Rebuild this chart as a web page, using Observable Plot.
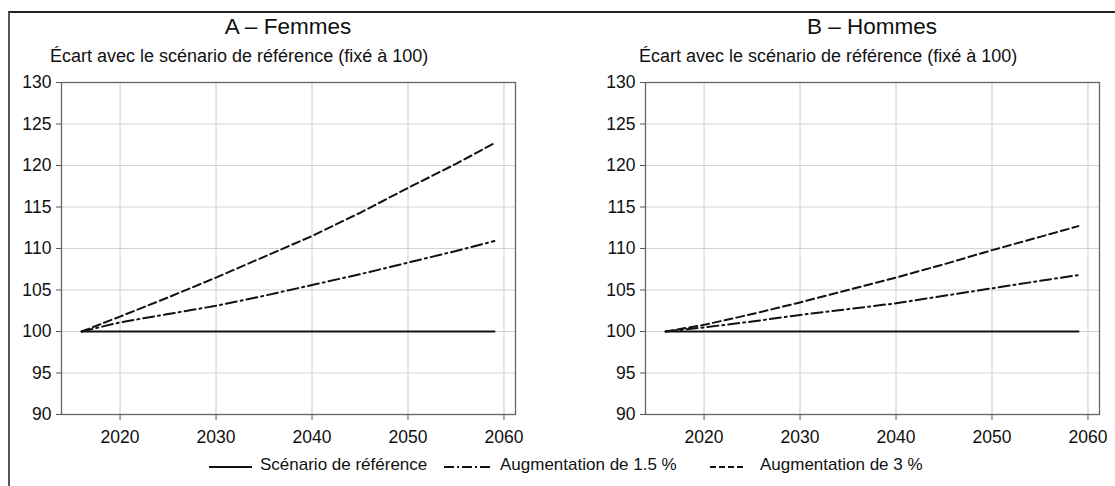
<!DOCTYPE html>
<html><head><meta charset="utf-8">
<script src="https://cdn.jsdelivr.net/npm/d3@7"></script>
<script src="https://cdn.jsdelivr.net/npm/@observablehq/plot@0.6"></script>
<style>
html,body{margin:0;padding:0;background:#fff;overflow:hidden;}
body{width:1115px;height:486px;position:relative;font-family:"Liberation Sans",Arial,sans-serif;color:#111;}
#frame{position:absolute;left:8px;top:11px;width:1200px;height:600px;border-top:2px solid #222;border-left:2px solid #555;}
.ptitle{position:absolute;top:14px;font-size:22.5px;transform:translateX(-50%);white-space:nowrap;}
.sub{position:absolute;top:46px;font-size:18px;white-space:nowrap;}
.plot{position:absolute;top:70px;}
.leg{position:absolute;top:455px;font-size:17px;white-space:nowrap;}
.legs{position:absolute;top:465px;}
</style></head>
<body>
<div id="frame"></div>
<div class="ptitle" style="left:288px">A – Femmes</div>
<div class="ptitle" style="left:872px">B – Hommes</div>
<div class="sub" style="left:50px">Écart avec le scénario de référence (fixé à 100)</div>
<div class="sub" style="left:639px">Écart avec le scénario de référence (fixé à 100)</div>
<div id="pA" class="plot" style="left:0px"></div>
<div id="pB" class="plot" style="left:584px"></div>
<div id="legend"></div>
<script>
const years = [2016, 2020, 2025, 2030, 2035, 2040, 2045, 2050, 2055, 2059];
const femmesRef = [100, 100, 100, 100, 100, 100, 100, 100, 100, 100];
const femmes15 = [100, 101.1, 102.1, 103.1, 104.3, 105.6, 106.9, 108.3, 109.7, 110.9];
const femmes3 = [100, 101.8, 104.1, 106.5, 109.0, 111.5, 114.3, 117.3, 120.2, 122.7];
const hommesRef = [100, 100, 100, 100, 100, 100, 100, 100, 100, 100];
const hommes15 = [100, 100.5, 101.2, 102.0, 102.7, 103.4, 104.3, 105.2, 106.1, 106.8];
const hommes3 = [100, 100.8, 102.1, 103.5, 105.0, 106.5, 108.1, 109.8, 111.4, 112.7];
const xTicks = [2020, 2030, 2040, 2050, 2060];
const yTicks = [90, 95, 100, 105, 110, 115, 120, 125, 130];
const seriesNames = ["Scénario de référence", "Augmentation de 1.5 %", "Augmentation de 3 %"];
const dashes = [null, "11,4,2,4", "8,4"];

function rows(vals) { return years.map((y, i) => ({year: y, value: vals[i]})); }

function panel(ref, s15, s3, width, marginRight) {
  return Plot.plot({
    width, height: 380,
    marginLeft: 61, marginRight, marginTop: 12, marginBottom: 36,
    style: {fontFamily: '"Liberation Sans", Arial, sans-serif', fontSize: "17px", color: "#111", background: "transparent"},
    x: {domain: [2013.9, 2061.2], label: null},
    y: {domain: [90, 130], label: null},
    marks: [
      Plot.gridX(xTicks, {stroke: "#d4d4d4", strokeOpacity: 1, strokeWidth: 1.2}),
      Plot.gridY(yTicks, {stroke: "#d4d4d4", strokeOpacity: 1, strokeWidth: 1.2}),
      Plot.frame({stroke: "#666", strokeWidth: 1.3}),
      Plot.axisX(xTicks, {tickSize: 6, tickPadding: 10, tickFormat: d => String(d), fontSize: 17.5, stroke: "#555", label: null}),
      Plot.axisY(yTicks, {tickSize: 5, tickPadding: 5, fontSize: 17.5, stroke: "#555", label: null}),
      Plot.line(rows(ref), {x: "year", y: "value", stroke: "#111", strokeWidth: 2.2}),
      Plot.line(rows(s15), {x: "year", y: "value", stroke: "#111", strokeWidth: 2, strokeDasharray: dashes[1]}),
      Plot.line(rows(s3), {x: "year", y: "value", stroke: "#111", strokeWidth: 2, strokeDasharray: dashes[2]})
    ]
  });
}

document.getElementById("pA").append(panel(femmesRef, femmes15, femmes3, 540, 25));
document.getElementById("pB").append(panel(hommesRef, hommes15, hommes3, 531, 16));

// legend
const legPos = [[209, 43, 260], [444, 48, 500], [710, 36, 760]];
const leg = document.getElementById("legend");
seriesNames.forEach((name, i) => {
  const [sx, sw, tx] = legPos[i];
  const s = document.createElementNS("http://www.w3.org/2000/svg", "svg");
  s.setAttribute("width", sw); s.setAttribute("height", 4);
  s.setAttribute("class", "legs"); s.style.left = sx + "px";
  const l = document.createElementNS("http://www.w3.org/2000/svg", "line");
  l.setAttribute("x1", 0); l.setAttribute("x2", sw); l.setAttribute("y1", 2); l.setAttribute("y2", 2);
  l.setAttribute("stroke", "#111"); l.setAttribute("stroke-width", 2);
  if (dashes[i]) l.setAttribute("stroke-dasharray", i === 2 ? "6,3" : "10,3,2,3");
  s.append(l); leg.append(s);
  const t = document.createElement("div");
  t.className = "leg"; t.style.left = tx + "px"; t.textContent = name;
  leg.append(t);
});
</script>
</body></html>
